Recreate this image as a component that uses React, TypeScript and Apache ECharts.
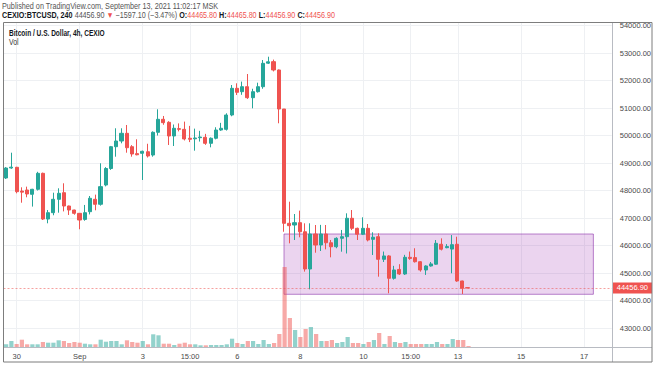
import React, { useEffect, useRef } from "react";
import * as echarts from "echarts";

// 4h bars, MSK time, first visible bar Aug 29 19:00
const START = Date.UTC(2021, 7, 29, 19, 0);
const SLOTS = 116;
const categories: string[] = [];
for (let i = 0; i < SLOTS; i++) {
  const d = new Date(START + i * 4 * 3600 * 1000);
  categories.push(
    `2021-${String(d.getUTCMonth() + 1).padStart(2, "0")}-${String(d.getUTCDate()).padStart(2, "0")} ${String(d.getUTCHours()).padStart(2, "0")}:00`
  );
}

const tickIndex = [2, 14, 26, 35, 44, 56, 68, 77, 86, 98, 110];
const tickLabels = ["30", "Sep", "3", "15:00", "6", "8", "10", "15:00", "13", "15", "17"];

const opens = [
  48455, 48818, 48844, 47980, 48018, 47862, 48044, 48625, 46963, 47193, 47680, 47920, 47436, 47290, 47170, 46950, 47230, 47680, 47500, 48200, 48800, 49593,
  49800, 50080, 49593, 49340, 49353, 49410, 49290, 50116, 50589, 50480, 49982, 50250, 50225, 49900, 49880, 49920, 49935, 49716, 49900, 50200, 50225, 50745, 51716,
  51593, 51775, 51375, 51593, 51775, 52630, 52685, 52382, 50964, 46807, 46745, 46830, 46500, 45145, 46418, 46018, 46418, 46100, 45955, 46262, 46320,
  46990, 46625, 46410, 46625, 46225, 46320, 45498, 45620, 44807, 45130, 44964, 45570, 45560, 45410, 45110, 45255, 45320, 46045, 45920, 45870, 46045, 44710, 44465.8,
];
const closes = [
  48818, 48850, 47957, 47940, 47873, 48044, 48625, 46963, 47193, 47680, 47898, 47436, 47290, 47170, 46927, 47193, 47717, 47498, 48140, 48800, 49593, 49800,
  50080, 49556, 49327, 49300, 49426, 49255, 50116, 50589, 50466, 49982, 50262, 50225, 49873, 49862, 49910, 49945, 49716, 49900, 50200, 50262, 50745, 51716, 51570,
  51775, 51375, 51593, 51775, 52625, 52680, 52382, 50964, 46807, 46720, 46830, 46500, 45145, 46418, 46018, 46418, 46100, 45955, 46260, 46320, 46990,
  46625, 46410, 46625, 46200, 46300, 45498, 45620, 44807, 45110, 44964, 45570, 45530, 45410, 45110, 45255, 45330, 46080, 45865, 45960, 46030, 44710, 44445, 44456.9,
];
const highs = [
  48850, 49375, 48860, 48116, 48140, 48060, 48680, 48650, 47291, 47920, 48080, 48262, 47450, 47300, 47180, 47475, 47800, 47850, 48989, 48850, 49620, 50262,
  50262, 50382, 49650, 49862, 49450, 49700, 50150, 50953, 50710, 50520, 50400, 50440, 50505, 50350, 50250, 50170, 50060, 49930, 50300, 50460, 50807, 51836, 51898,
  51960, 52236, 51700, 51920, 52745, 52865, 52760, 52400, 50964, 47593, 47145, 47268, 46807, 46807, 46745, 46750, 46745, 46200, 46300, 46565, 47170,
  47290, 46650, 47025, 46782, 46480, 46443, 45780, 45650, 45260, 45320, 45660, 45780, 45900, 45430, 45280, 45400, 46200, 46260, 46050, 46380, 46320, 44720, 44465.8,
];
const lows = [
  48420, 48790, 47898, 47556, 47753, 47415, 48000, 46927, 46807, 47100, 47193, 47240, 47110, 47120, 46590, 46900, 47130, 47280, 47450, 48150, 48750, 49229,
  49716, 49375, 49229, 49280, 48382, 49200, 49229, 50000, 50390, 49655, 49618, 50150, 49820, 49760, 49448, 49780, 49660, 49570, 49860, 50170, 50180, 50700, 51473,
  51480, 51330, 50989, 51560, 51700, 52600, 52330, 50444, 46500, 46080, 46200, 46298, 45050, 44407, 45738, 45800, 45860, 45570, 45900, 45775, 45710,
  46560, 46200, 46380, 46150, 45655, 44866, 45400, 44262, 44760, 44930, 44930, 45480, 45380, 45050, 44930, 45230, 45300, 45820, 45900, 44990, 44680, 44237, 44456.9,
];
const volumes = [
  2.7, 6, 3, 7.3, 2.7, 2.7, 2.7, 5, 4.3, 4.3, 6.7, 6, 4, 5, 4.3, 3.3, 2.7, 2.7, 7.3, 5.3, 6, 6,
  2.7, 6.7, 5, 4.3, 6, 2.7, 12.7, 11.7, 3.3, 3.3, 2, 3.3, 4.3, 2.7, 2.7, 1.7, 1.7, 2, 2, 2, 2.7, 8.3, 4,
  3, 6, 6, 3, 7, 3, 4, 13, 80, 29, 17, 10, 18, 20, 13, 6, 6, 7, 4, 5, 10,
  4, 4, 3, 5, 7, 14, 3, 11, 5, 4, 5, 3, 3, 3, 3, 3, 5, 3, 3, 8, 7, 7, 1,
];

const boxStart = 53;
const boxEnd = 112;
const boxTop = 46418;
const boxBottom = 44226;
const lastPrice = 44456.9;

const UP = "#26a69a";
const DOWN = "#ef5350";
const FONT = "'Liberation Sans Narrow', 'Liberation Sans', Arial, sans-serif";
const HFONT = "'Liberation Sans', Arial, sans-serif";

export default function App() {
  const ref = useRef<HTMLDivElement>(null);
  useEffect(() => {
    document.body.style.margin = "0";
    const chart = echarts.init(ref.current!, undefined, { renderer: "svg" });
    const candleData = opens.map((o, i) => [o, closes[i], lows[i], highs[i]]);
    const volData = volumes.map((v, i) => ({
      value: v,
      itemStyle: { color: closes[i] >= opens[i] ? "rgba(38,166,154,0.5)" : "rgba(239,83,80,0.5)" },
    }));
    const labelMap: Record<number, string> = {};
    tickIndex.forEach((t, k) => (labelMap[t] = tickLabels[k]));
    const band = (613 - 3.5) / SLOTS;

    chart.setOption({
      animation: false,
      textStyle: { fontFamily: FONT },
      grid: [
        { left: 3.5, right: 41, top: 25.5, bottom: 10.5 },
        { left: 3.5, right: 41, top: 250, bottom: 19 },
        { left: 3.5 + band / 2, right: 41 + band / 2, top: 22, bottom: 19 },
      ],
      xAxis: [
        { type: "category", gridIndex: 0, data: categories, axisLine: { show: false }, axisTick: { show: false }, axisLabel: { show: false }, splitLine: { show: false } },
        {
          type: "category", gridIndex: 1, data: categories,
          axisLine: { show: false }, axisTick: { show: false }, splitLine: { show: false },
          axisLabel: {
            interval: (i: number) => tickIndex.includes(i),
            formatter: (_v: string, i: number) => labelMap[i] ?? "",
            color: "#4a4a4a", fontSize: 7.5, margin: 5, fontFamily: FONT,
          },
        },
        {
          type: "category", gridIndex: 2, data: categories, boundaryGap: false,
          axisLine: { show: false }, axisTick: { show: false }, axisLabel: { show: false },
          splitLine: { show: true, interval: (i: number) => tickIndex.includes(i), lineStyle: { color: "#eef0f3", width: 1 } },
        },
      ],
      yAxis: [
        {
          type: "value", gridIndex: 0, position: "right", min: 42000, max: 54000, interval: 1000,
          axisLine: { show: false }, axisTick: { show: false },
          axisLabel: { color: "#4a4a4a", fontSize: 7.5, margin: 8, fontFamily: FONT, showMinLabel: false, formatter: (v: number) => v.toFixed(2) },
          splitLine: { show: true, showMinLine: false, lineStyle: { color: "#eef0f3", width: 1 } },
        },
        { type: "value", gridIndex: 1, min: 0, max: 97, show: false, splitLine: { show: false } },
        { type: "value", gridIndex: 2, show: false, splitLine: { show: false } },
      ],
      series: [
        { type: "line", xAxisIndex: 2, yAxisIndex: 2, data: [], silent: true },
        {
          type: "bar", xAxisIndex: 1, yAxisIndex: 1, data: volData, barWidth: "80%", silent: true,
        },
        {
          type: "candlestick", xAxisIndex: 0, yAxisIndex: 0, data: candleData, barWidth: "68%",
          itemStyle: { color: UP, color0: DOWN, borderColor: UP, borderColor0: DOWN, borderWidth: 1 },
          markArea: {
            silent: true,
            itemStyle: { color: "rgba(156,39,176,0.2)", borderColor: "rgba(140,50,170,0.6)", borderWidth: 1 },
            data: [[{ coord: [categories[boxStart], boxTop] }, { coord: [categories[boxEnd], boxBottom] }]],
          },
          markLine: {
            silent: true, symbol: ["none", "none"],
            lineStyle: { color: "rgba(239,83,80,0.55)", type: [2, 2], width: 1 },
            label: {
              show: true, position: "end", distance: 1, formatter: lastPrice.toFixed(2),
              backgroundColor: DOWN, color: "#ffffff", fontSize: 7.5, fontFamily: FONT, padding: [2, 4, 1, 4],
            },
            data: [{ yAxis: lastPrice }],
          },
        },
      ],
      graphic: [
        { type: "rect", shape: { x: 613, y: 0, width: 41, height: 22 }, style: { fill: "#fff" }, z: 100 },
        { type: "line", shape: { x1: 612.5, y1: 22.5, x2: 612.5, y2: 362 }, style: { stroke: "#b8bbc2", lineWidth: 1 }, z: 101 },
        { type: "line", shape: { x1: 3.5, y1: 347.5, x2: 652, y2: 347.5 }, style: { stroke: "#b8bbc2", lineWidth: 1 }, z: 101 },
        { type: "rect", shape: { x: 3.5, y: 22.5, width: 648.5, height: 339.5 }, style: { fill: "none", stroke: "#7d7d7d", lineWidth: 1 }, z: 102 },
        {
          type: "text", x: 2, y: 6, scaleX: 0.855, z: 103,
          style: { text: "Published on TradingView.com, September 13, 2021 11:02:17 MSK", fontSize: 8.5, fontFamily: HFONT, fill: "#555", verticalAlign: "middle" },
        },
        {
          type: "text", x: 2, y: 15.5, scaleX: 0.845, z: 103,
          style: {
            text: "{b|CEXIO:BTCUSD, 240} {g|44456.90} {r|▼} {g|−1597.10 (−3.47%)} {b|O:}{r|44465.80} {b|H:}{r|44465.80} {b|L:}{r|44456.90} {b|C:}{r|44456.90}",
            fontSize: 8.5, fontFamily: HFONT, verticalAlign: "middle",
            rich: {
              b: { fontWeight: "bold", fill: "#131722", fontSize: 8.5, fontFamily: HFONT },
              g: { fill: "#555", fontSize: 8.5, fontFamily: HFONT },
              r: { fill: DOWN, fontSize: 8.5, fontFamily: HFONT },
            },
          },
        },
        {
          type: "text", x: 9, y: 33, scaleX: 0.77, z: 103,
          style: { text: "Bitcoin / U.S. Dollar, 4h, CEXIO", fontSize: 8.5, fontWeight: "bold", fontFamily: HFONT, fill: "#131722", verticalAlign: "middle" },
        },
        {
          type: "text", x: 9, y: 42.5, scaleX: 0.8, z: 103,
          style: { text: "Vol", fontSize: 8.5, fontFamily: HFONT, fill: "#333", verticalAlign: "middle" },
        },
      ],
    });
    return () => chart.dispose();
  }, []);
  return <div ref={ref} style={{ width: 654, height: 366 }} />;
}
